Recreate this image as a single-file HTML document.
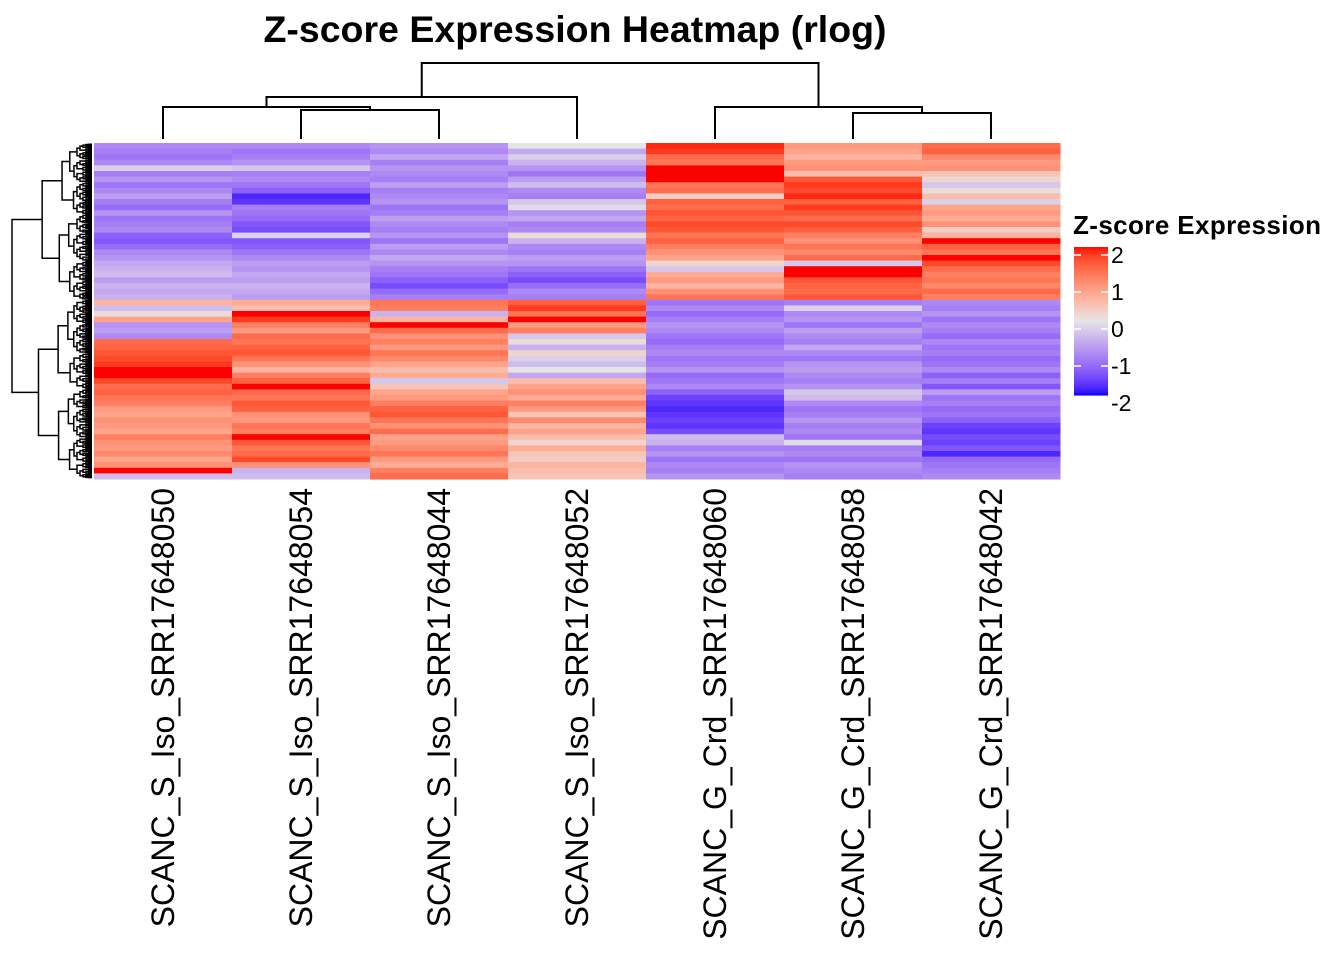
<!DOCTYPE html>
<html><head><meta charset="utf-8"><style>
html,body{margin:0;padding:0;background:#fff;}
svg{display:block;font-family:"Liberation Sans",Arial,sans-serif;}
</style></head><body>
<svg id="chart" width="1344" height="960" viewBox="0 0 1344 960">
<text x="575" y="42" text-anchor="middle" font-size="37.5" font-weight="bold">Z-score Expression Heatmap (rlog)</text>
<g id="coldendro" stroke="#000" stroke-width="2" fill="none"></g>
<g id="rowdendro" stroke="#000" stroke-width="1.5" fill="none"></g>
<g id="cells"></g>
<g id="collabels"></g>
<g id="legend">
<text x="1073" y="234" font-size="26" font-weight="bold" textLength="248">Z-score Expression</text>
</g>
</svg>
<script>
const samples = ["SCANC_S_Iso_SRR17648050","SCANC_S_Iso_SRR17648054","SCANC_S_Iso_SRR17648044","SCANC_S_Iso_SRR17648052","SCANC_G_Crd_SRR17648060","SCANC_G_Crd_SRR17648058","SCANC_G_Crd_SRR17648042"];
const c1 = [-0.9,-1,-1.1,-0.9,-0.2,-1,-0.8,-1.1,-0.9,-0.7,-1,-1.2,-0.8,-1.1,-1,-0.9,-1.3,-1.4,-1.2,-0.9,-0.8,-0.6,-0.5,-0.4,-0.7,-0.5,-0.6,-0.5,0.6,-0.4,0.1,0.8,-0.8,-0.7,-0.9,1.4,1.5,1.6,1.7,1.8,2,2.1,1.7,1.4,1.5,1.3,1.2,0.9,0.8,1.0,0.9,0.8,1.2,1.0,0.9,1.1,0.8,1.0,2.1,-0.4];
const c2 = [-0.9,-1.1,-1,-0.8,-0.3,-1,-0.9,-1.1,-1.3,-1.8,-1.7,-1,-1.1,-1.2,-1.4,-1.5,-0.2,-1.4,-1.3,-1.1,-0.9,-0.7,-0.8,-0.6,-0.7,-0.5,-0.6,-0.7,0.7,0.5,2.0,1.8,1.2,0.9,1.4,1.3,1.5,1.6,1.3,1.0,0.6,1.2,1.5,2.0,1.4,1.3,1.6,1.5,1.0,0.9,1.3,1.2,2.0,1.6,1.3,1.4,1.7,1.0,-0.5,-0.4];
const c3 = [-0.8,-0.9,-0.6,-1,-0.8,-0.9,-1,-0.7,-1,-0.9,-0.8,-1.1,-1,-0.7,-0.9,-1,-0.8,-1.1,-0.7,-0.9,-0.6,-0.8,-1,-1.1,-1.3,-1.5,-1.2,-1.0,1.3,1.2,-0.5,0.6,2.1,1.4,1.0,1.2,0.9,1.3,1.1,0.8,0.5,0.7,-0.3,0.4,0.8,0.9,1.2,1.5,1.6,1.3,1.0,1.4,0.8,0.9,1.1,1.3,0.9,0.7,1.2,1.4];
const c4 = [0,-0.6,-0.2,-0.5,-0.8,-1.1,-0.7,-0.4,-0.9,-1,-0.3,-0.1,-0.8,-0.6,-1,-0.9,0.1,-0.5,-0.9,-1,-0.7,-0.8,-1.1,-1.3,-1.5,-1.2,-0.9,-1.0,1.5,1.8,1.3,2.0,0.9,1.2,-0.3,0.1,-0.5,0.2,-0.2,-0.4,0,-0.6,0.5,0.8,1,0.7,1.2,0.9,0.4,1.1,0.6,0.8,0.5,0.2,0.7,0.4,0.3,0.6,0.5,0.4];
const c5 = [1.9,1.8,1.4,1.3,2.2,2.2,2.1,1.3,1.4,0.3,1.5,1.4,1.6,1.5,1.7,1.6,1.3,1.5,1.2,1.0,0.8,0.2,-0.3,0.7,0.9,0.6,1.0,1.3,-1.1,-0.9,-1.2,-1.0,-0.8,-0.9,-1.1,-1.2,-1.0,-0.9,-1.1,-1.0,-0.8,-1.2,-1.1,-0.9,-1.3,-1.6,-1.7,-1.8,-1.7,-1.6,-1.7,-1.5,-0.4,-0.5,-1.0,-0.8,-1.1,-0.9,-1.0,-0.8];
const c6 = [0.9,0.8,0.6,0.9,1.0,0.5,1.6,1.8,1.7,1.9,1.5,1.8,1.6,1.4,1.7,1.5,1.2,1.0,1.3,1.1,1.4,-0.3,2.2,2.1,1.6,1.5,1.4,1.6,-1.0,-0.2,-0.9,-0.8,-1.1,-0.7,-0.9,-1.0,-0.6,-0.9,-1.1,-0.8,-0.7,-0.9,-1.0,-0.8,-0.3,-0.4,-0.9,-1.1,-1.0,-0.8,-1.0,-0.9,-1.1,-0.1,-1.0,-0.9,-1.1,-0.8,-0.9,-1.0];
const c7 = [1.4,1.5,1.1,0.9,1.0,0.4,0.2,-0.3,0.1,0.5,-0.2,0.8,0.9,0.7,1.0,0.3,0.6,2.0,1.5,1.3,2.2,1.7,1.4,1.2,1.3,1.1,1.4,1.2,-0.9,-1.0,-0.8,-1.1,-0.9,-1.0,-1.2,-0.9,-1.1,-1.0,-1.2,-1.1,-0.9,-1.3,-1.0,-1.4,-0.7,-1.1,-1.0,-1.2,-1.1,-1.3,-1.6,-1.7,-1.5,-1.6,-1.4,-1.8,-1.2,-1.1,-1.0,-0.9];
const legendTicks = [2,1,0,-1,-2];
const NS="http://www.w3.org/2000/svg";
const cols=[c1,c2,c3,c4,c5,c6,c7];
const X0=94,X1=1060,Y0=143,Y1=479;
const nR=c1.length, cw=(X1-X0)/cols.length, rh=(Y1-Y0)/nR;
function colX(i){return X0+i*cw;}
function rowY(r){return Y0+r*rh;}
function toLin(c){c/=255;return c<=0.04045?c/12.92:Math.pow((c+0.055)/1.055,2.4);}
function fromLin(c){c=c<=0.0031308?12.92*c:1.055*Math.pow(c,1/2.4)-0.055;return Math.max(0,Math.min(255,Math.round(c*255)));}
function rgb2lab(r,g,b){r=toLin(r);g=toLin(g);b=toLin(b);
let x=(0.4124*r+0.3576*g+0.1805*b)/0.95047,y=0.2126*r+0.7152*g+0.0722*b,z=(0.0193*r+0.1192*g+0.9505*b)/1.08883;
const f=t=>t>0.008856?Math.cbrt(t):7.787*t+16/116;x=f(x);y=f(y);z=f(z);return[116*y-16,500*(x-y),200*(y-z)];}
function lab2rgb(L,a,bb){let y=(L+16)/116,x=a/500+y,z=y-bb/200;const fi=t=>t*t*t>0.008856?t*t*t:(t-16/116)/7.787;
x=fi(x)*0.95047;y=fi(y);z=fi(z)*1.08883;
const r=3.2406*x-1.5372*y-0.4986*z,g=-0.9689*x+1.8758*y+0.0415*z,b=0.0557*x-0.2040*y+1.0570*z;return[fromLin(r),fromLin(g),fromLin(b)];}
const LB=rgb2lab(0,0,255),LW=rgb2lab(229,229,229),LR=rgb2lab(255,0,0);
function color(v){v=Math.max(-2,Math.min(2,v));const t=Math.abs(v)/2,E=v<0?LB:LR;
const c=lab2rgb(LW[0]+(E[0]-LW[0])*t,LW[1]+(E[1]-LW[1])*t,LW[2]+(E[2]-LW[2])*t);return `rgb(${c[0]},${c[1]},${c[2]})`;}
function mk(tag,attrs,parent){const e=document.createElementNS(NS,tag);for(const k in attrs)e.setAttribute(k,attrs[k]);parent.appendChild(e);return e;}
const cells=document.getElementById('cells');
cols.forEach((col,i)=>col.forEach((v,r)=>{
 const e=mk('rect',{x:colX(i),y:rowY(r),width:cw+0.5,height:rh+0.5,fill:color(v)},cells);
 
 
}));
const labs=document.getElementById('collabels');
samples.forEach((s,i)=>{
 const cx=colX(i)+cw/2+11;
 const t=mk('text',{x:0,y:0,transform:`translate(${cx},488) rotate(-90)`,'text-anchor':'end','font-size':'32'},labs);
 t.textContent=s;
 
 
});
const cd=document.getElementById('coldendro');
function cc(i){return colX(i)+cw/2;}
function seg(p,pts){return mk('polyline',{points:pts.map(q=>q.join(',')).join(' ')},p);}
const aM=(cc(1)+cc(2))/2;
seg(cd,[[cc(1),139],[cc(1),110],[cc(2),110],[cc(2),139]]);
seg(cd,[[cc(0),139],[cc(0),107],[aM,107],[aM,110]]);
const bM=(cc(0)+aM)/2;
seg(cd,[[bM,107],[bM,97],[cc(3),97],[cc(3),139]]);
const lM=(bM+cc(3))/2;
seg(cd,[[cc(5),139],[cc(5),113],[cc(6),113],[cc(6),139]]);
const dM=(cc(5)+cc(6))/2;
seg(cd,[[cc(4),139],[cc(4),107],[dM,107],[dM,113]]);
const rM=(cc(4)+dM)/2;
seg(cd,[[lM,97],[lM,63],[rM,63],[rM,107]]);
const rd=document.getElementById('rowdendro');
function tree(y0,y1,depth){
 if(y1-y0<1.1||depth>10){return {y:(y0+y1)/2,x:92};}
 let split=depth===0?rowY(28):(y0+(y1-y0)*(0.4+((depth*7+Math.round(y0))%5)*0.05));
 const A=tree(y0,split,depth+1),B=tree(split,y1,depth+1);
 const x=depth===0?12:Math.min(A.x,B.x)-Math.max(3,(y1-y0)*0.11);
 seg(rd,[[A.x,A.y],[x,A.y],[x,B.y],[B.x,B.y]]);
 return {y:(A.y+B.y)/2,x:x};
}
tree(Y0+1,Y1-1,0);
const lg=document.getElementById('legend');
function ly(v){return 255+(2-v)*37;}
for(let k=0;k<80;k++){const v=2-4*k/80;const r=mk('rect',{x:1074,y:ly(v)-8,width:34,height:148/80+0.6,fill:color(v-0.025)},lg);
 
 }
legendTicks.forEach(v=>{
 const y=ly(v);
 mk('line',{x1:1074,x2:1081,y1:y,y2:y,stroke:'#fff','stroke-width':1.5},lg);
 mk('line',{x1:1101,x2:1108,y1:y,y2:y,stroke:'#fff','stroke-width':1.5},lg);
 const t=mk('text',{x:1111,y:y+8,'font-size':'23'},lg);
 t.textContent=v<0?'-'+Math.abs(v):String(v);
 
 
});
</script>
</body></html>
